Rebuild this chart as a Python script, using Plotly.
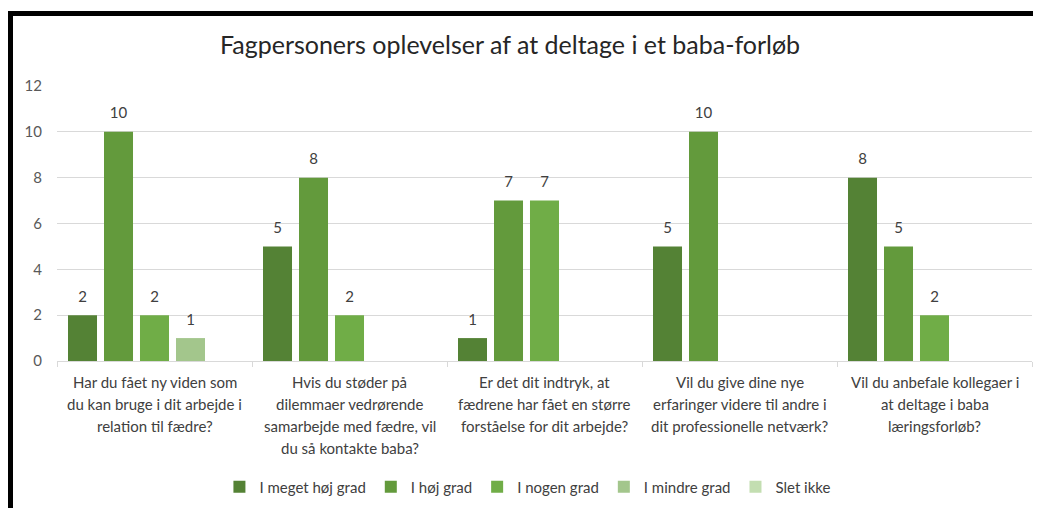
import plotly.graph_objects as go

title = "Fagpersoners oplevelser af at deltage i et baba-forløb"
categories = ["Q1", "Q2", "Q3", "Q4", "Q5"]
category_labels = [
    "Har du fået ny viden som<br>du kan bruge i dit arbejde i<br>relation til fædre?",
    "Hvis du støder på<br>dilemmaer vedrørende<br>samarbejde med fædre, vil<br>du så kontakte baba?",
    "Er det dit indtryk, at<br>fædrene har fået en større<br>forståelse for dit arbejde?",
    "Vil du give dine nye<br>erfaringer videre til andre i<br>dit professionelle netværk?",
    "Vil du anbefale kollegaer i<br>at deltage i baba<br>læringsforløb?",
]
series_names = ["I meget høj grad", "I høj grad", "I nogen grad", "I mindre grad", "Slet ikke"]
meget_hoej = [2, 5, 1, 5, 8]
hoej = [10, 8, 7, 10, 5]
nogen = [2, 2, 7, None, 2]
mindre = [1, None, None, None, None]
slet_ikke = [None, None, None, None, None]
series_values = [meget_hoej, hoej, nogen, mindre, slet_ikke]
colors = ["#548235", "#639A3C", "#70AD47", "#A3C68C", "#C3DEB1"]
y_ticks = [0, 2, 4, 6, 8, 10, 12]

FONT = "Lato"
# page body has an 8px margin; figure is sized to fit the 1041x508 window
W, H = 1033, 500
ML, MT, MR, MB = 49, 78, 9, 147
PW, PH = W - ML - MR, H - MT - MB

fig = go.Figure()
for name, vals, col in zip(series_names, series_values, colors):
    fig.add_trace(go.Bar(
        x=categories, y=vals, name=name, marker=dict(color=col, line=dict(width=0)),
    ))
for name, vals in zip(series_names, series_values):
    fig.add_trace(go.Scatter(
        x=categories, y=vals, mode="markers+text", showlegend=False, hoverinfo="skip",
        marker=dict(size=14, color="rgba(0,0,0,0)"),
        text=[("" if v is None else str(v)) for v in vals],
        textposition="top center", cliponaxis=False,
        textfont=dict(family=FONT, size=15, color="#404040"),
    ))

annotations = []
for cat, lab in zip(categories, category_labels):
    for i, line in enumerate(lab.split("<br>")):
        annotations.append(dict(
            x=cat, y=0, xref="x", yref="y", text=line, showarrow=False,
            yanchor="middle", xanchor="center", yshift=-(21 + 22 * i),
            font=dict(family=FONT, size=15, color="#404040"),
        ))

fig.update_layout(
    width=W, height=H,
    margin=dict(l=ML, r=MR, t=MT, b=MB, autoexpand=False),
    paper_bgcolor="white", plot_bgcolor="white",
    barmode="group", bargap=0.077, bargroupgap=0.194,
    scattermode="group", scattergap=0.077,
    title=dict(text=title, x=502 / W, xanchor="center", y=1 - 37 / H, yanchor="middle",
               font=dict(family=FONT, size=25, color="#262626")),
    font=dict(family=FONT, size=15, color="#595959"),
    xaxis=dict(showticklabels=False, showline=True, linecolor="#D9D9D9", linewidth=1,
               ticks="outside", tickson="boundaries", ticklen=5, tickcolor="#D9D9D9",
               showgrid=False, zeroline=False),
    yaxis=dict(range=[0, 12], tickvals=y_ticks, showgrid=True, gridcolor="#D9D9D9",
               gridwidth=1, zeroline=False, showline=False, ticks="",
               tickfont=dict(family=FONT, size=15, color="#595959"), ticklabelstandoff=14),
    legend=dict(orientation="h", x=0.483, xanchor="center", y=-0.458, yanchor="middle",
                font=dict(family=FONT, size=15, color="#404040"), itemwidth=30,
                traceorder="normal"),
    annotations=annotations,
    shapes=[
        dict(type="line", xref="paper", yref="paper", x0=(0 - ML) / PW, x1=(W - ML) / PW,
             y0=(MT + PH - 5.5) / PH, y1=(MT + PH - 5.5) / PH, line=dict(color="black", width=5)),
        dict(type="line", xref="paper", yref="paper", x0=(2.5 - ML) / PW, x1=(2.5 - ML) / PW,
             y0=(MT + PH - 3) / PH, y1=(MT + PH - H - 5) / PH, line=dict(color="black", width=5)),
    ],
)

fig.write_html("out.html")
